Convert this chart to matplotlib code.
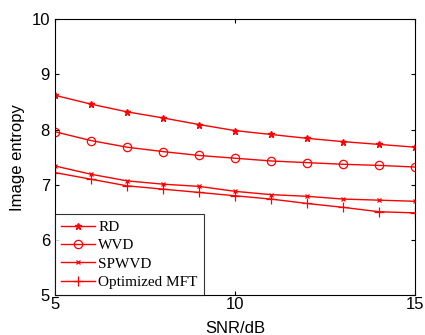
import matplotlib
matplotlib.use('Agg')
import matplotlib.pyplot as plt

# SNR values and image entropy for each method
snr = [5, 6, 7, 8, 9, 10, 11, 12, 13, 14, 15]
rd = [8.62, 8.46, 8.32, 8.21, 8.09, 7.98, 7.91, 7.84, 7.78, 7.73, 7.68]
wvd = [7.96, 7.80, 7.68, 7.60, 7.53, 7.48, 7.43, 7.40, 7.37, 7.35, 7.32]
spwvd = [7.34, 7.19, 7.07, 7.01, 6.97, 6.88, 6.82, 6.79, 6.74, 6.72, 6.70]
mft = [7.22, 7.10, 6.98, 6.92, 6.86, 6.80, 6.74, 6.66, 6.59, 6.51, 6.49]

fig = plt.figure(figsize=(4.25, 3.35), dpi=100)
ax = fig.add_axes([0.129, 0.119, 0.848, 0.824])

ax.plot(snr, rd, color='red', lw=1, marker='*', ms=5, label='RD')
ax.plot(snr, wvd, color='red', lw=1, marker='o', ms=6, mfc='none', mew=0.9, label='WVD')
ax.plot(snr, spwvd, color='red', lw=1, marker='x', ms=3.5, mew=0.9, label='SPWVD')
ax.plot(snr, mft, color='red', lw=1, marker='+', ms=7, mew=0.9, label='Optimized MFT')

ax.set_xlim(5, 15)
ax.set_ylim(5, 10)
ax.set_xticks([5, 10, 15])
ax.set_yticks([5, 6, 7, 8, 9, 10])
ax.tick_params(direction='in', top=True, right=True, labelsize=12, length=3)
ax.tick_params(axis='x', pad=1.5)
for lab in ax.get_xticklabels() + ax.get_yticklabels():
    lab.set_family('Liberation Sans')
for s in ax.spines.values():
    s.set_linewidth(0.8)

ax.set_xlabel('SNR/dB', family='Liberation Sans', fontsize=12, labelpad=6)
ax.set_ylabel('Image entropy', family='Liberation Sans', fontsize=12, labelpad=5)

leg = ax.legend(loc='lower left', prop={'family': 'Liberation Serif', 'size': 11},
                fancybox=False, edgecolor='black', borderaxespad=0,
                handlelength=2.2, labelspacing=0.3, handletextpad=0.25, borderpad=0.4)
leg.get_frame().set_linewidth(0.8)

plt.savefig('out.png')
